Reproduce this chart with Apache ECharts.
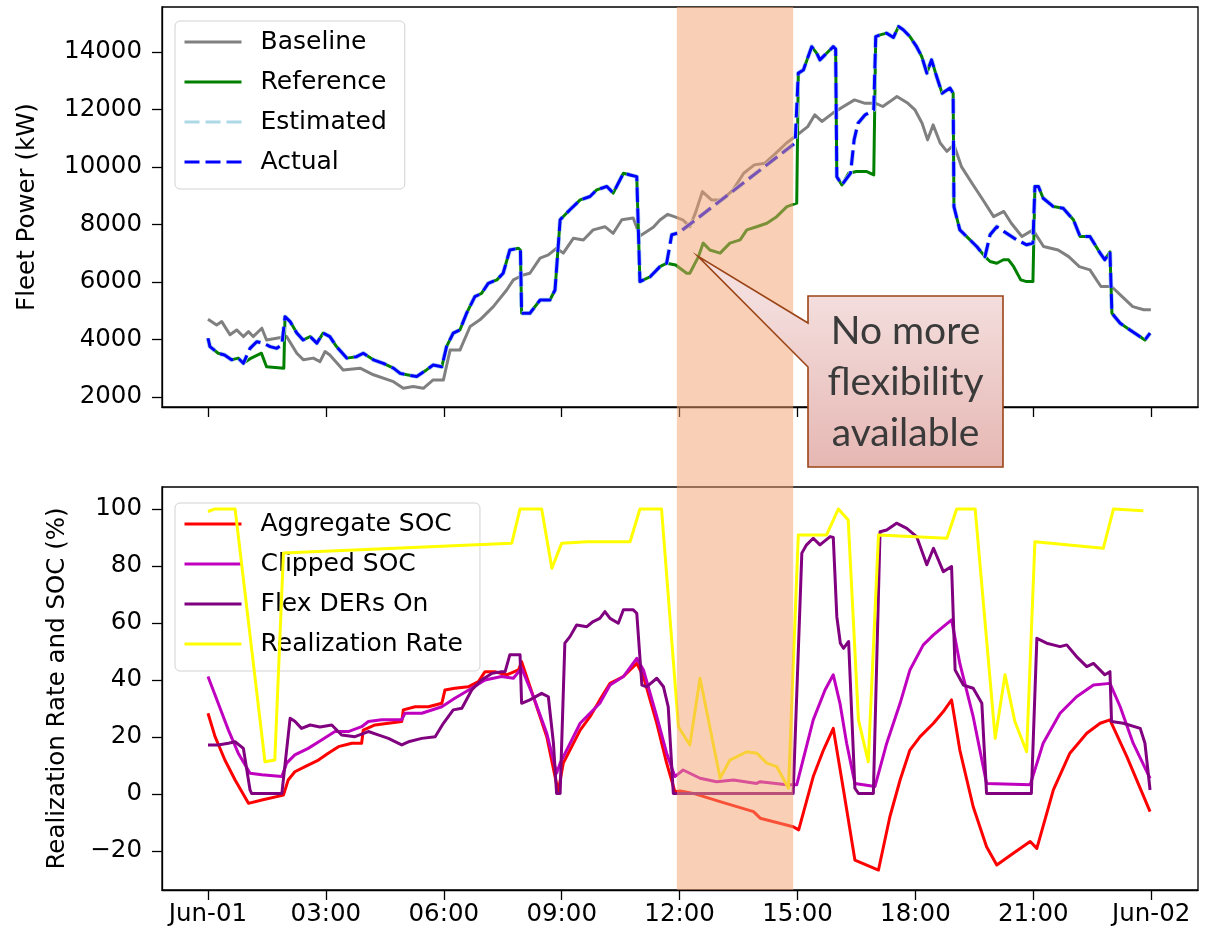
<!DOCTYPE html>
<html>
<head>
<meta charset="utf-8">
<script src="https://cdn.jsdelivr.net/npm/echarts@6/dist/echarts.min.js"></script>
<style>
  html, body { margin: 0; padding: 0; background: #fff; }
  #chart { width: 1207px; height: 935px; }
</style>
</head>
<body>
<div id="chart"></div>
<script>
// ---- time axis (hours since Jun-01 00:00) ----
const xTickHours = [0, 3, 6, 9, 12, 15, 18, 21, 24];
const xTickLabels = ['Jun-01', '03:00', '06:00', '09:00', '12:00', '15:00', '18:00', '21:00', 'Jun-02'];
const powerTicks = [2000, 4000, 6000, 8000, 10000, 12000, 14000];
const pctTicks = [-20, 0, 20, 40, 60, 80, 100];
const shadeWindow = [11.93, 14.89];
const calloutPoint = [12.46, 6900];
const calloutText = ['No more', 'flexibility', 'available'];

// ---- top panel: fleet power (kW) ----
const baseline = [
  [0,4700],[0.22,4500],[0.35,4620],[0.56,4160],[0.73,4330],[0.9,4100],[1.03,4270],[1.15,4100],[1.37,4390],[1.49,3980],
  [2.0,4100],[2.26,3520],[2.43,3290],[2.68,3350],[2.85,3230],[2.98,3580],[3.1,3460],[3.44,2940],[3.87,3000],[4.21,2770],
  [4.72,2530],[4.97,2300],[5.22,2360],[5.48,2300],[5.73,2590],[5.99,2590],[6.16,3630],[6.41,3630],[6.67,4450],[6.92,4680],
  [7.26,5140],[7.6,5720],[7.77,6070],[8.02,6240],[8.19,6300],[8.45,6830],[8.66,6940],[8.87,7170],[9.04,7000],[9.3,7520],
  [9.55,7460],[9.8,7810],[10.1,7920],[10.31,7690],[10.53,8160],[10.82,8220],[10.99,7600],[11.33,7900],[11.5,8150],[11.7,8350],
  [11.9,8250],[12.08,8160],[12.26,7920],[12.4,8390],[12.58,9140],[12.81,8850],[13.08,8850],[13.36,9200],[13.63,9780],[13.9,10070],
  [14.17,10130],[14.45,10480],[14.72,10830],[14.99,11110],[15.26,11400],[15.44,11810],[15.62,11580],[15.9,11870],[16.17,12100],[16.45,12330],
  [16.72,12210],[16.99,12210],[17.17,12100],[17.35,12270],[17.53,12450],[17.81,12210],[17.99,11980],[18.17,11520],[18.31,10940],[18.45,11460],
  [18.63,10830],[18.8,10540],[18.98,10770],[19.17,10010],[19.44,9430],[19.72,8850],[19.99,8270],[20.25,8450],[20.44,8040],[20.71,7580],
  [20.99,7810],[21.26,7230],[21.63,7110],[21.9,6880],[22.17,6530],[22.44,6420],[22.72,5840],[22.99,5840],[23.26,5490],[23.53,5140],
  [23.81,5030],[23.99,5030]
];
const reference = [
  [0,4040],[0.05,3750],[0.26,3520],[0.42,3460],[0.6,3290],[0.77,3350],[0.9,3170],[1.1,3350],[1.36,3520],[1.49,3050],
  [1.93,3000],[1.96,4790],[2.09,4620],[2.26,4220],[2.42,3980],[2.6,4100],[2.77,3870],[2.93,4220],[3.1,4100],[3.27,3750],
  [3.53,3350],[3.78,3400],[3.95,3520],[4.21,3290],[4.46,3170],[4.72,3000],[4.89,2820],[5.06,2770],[5.31,2710],[5.56,2940],
  [5.73,3110],[5.95,3050],[6.07,3750],[6.24,4220],[6.41,4330],[6.58,4910],[6.79,5490],[6.96,5600],[7.13,5950],[7.35,6070],
  [7.51,6300],[7.68,7110],[7.9,7170],[7.95,7100],[7.98,4910],[8.19,4910],[8.45,5370],[8.7,5370],[8.83,5720],[8.96,8160],
  [9.21,8510],[9.47,8850],[9.72,8970],[9.89,9200],[10.15,9320],[10.31,9090],[10.57,9780],[10.74,9720],[10.91,9660],[10.99,6010],
  [11.25,6180],[11.5,6530],[11.67,6650],[11.9,6590],[12.18,6300],[12.26,6300],[12.48,6880],[12.6,7350],[12.77,7110],[13.03,7000],
  [13.28,7350],[13.54,7460],[13.71,7810],[13.96,7920],[14.22,8040],[14.47,8270],[14.73,8620],[14.98,8740],[15.02,13260],[15.15,13370],
  [15.36,14180],[15.49,13950],[15.57,13720],[15.74,13950],[15.91,14180],[15.97,14100],[16.0,9660],[16.13,9370],[16.3,9780],[16.5,9840],
  [16.75,9840],[16.94,9720],[16.99,14530],[17.1,14590],[17.27,14650],[17.44,14500],[17.57,14880],[17.69,14770],[17.86,14530],[18.03,14180],
  [18.16,13840],[18.29,13260],[18.41,13720],[18.55,13100],[18.68,12560],[18.88,12740],[18.96,12560],[18.98,8620],[19.13,7810],[19.39,7460],
  [19.56,7230],[19.77,6880],[19.9,6710],[20.07,6650],[20.24,6770],[20.37,6770],[20.5,6530],[20.68,6070],[20.83,6010],[20.99,6010],
  [21.04,9320],[21.13,9320],[21.25,8910],[21.51,8620],[21.76,8560],[22.02,8160],[22.19,7580],[22.44,7580],[22.7,7000],[22.82,6770],
  [22.95,7050],[23.0,4910],[23.21,4560],[23.46,4330],[23.71,4100],[23.84,3980],[23.97,4220]
];
const actual = [
  [0,4040],[0.05,3750],[0.26,3520],[0.42,3460],[0.6,3290],[0.77,3350],[0.9,3170],[1.07,3690],[1.24,3920],[1.41,3870],
  [1.58,3750],[1.75,3690],[1.88,3810],[1.93,3750],[1.96,4790],[2.09,4620],[2.26,4220],[2.42,3980],[2.6,4100],[2.77,3870],
  [2.93,4220],[3.1,4100],[3.27,3750],[3.53,3350],[3.78,3400],[3.95,3520],[4.21,3290],[4.46,3170],[4.72,3000],[4.89,2820],
  [5.06,2770],[5.31,2710],[5.56,2940],[5.73,3110],[5.95,3050],[6.07,3750],[6.24,4220],[6.41,4330],[6.58,4910],[6.79,5490],
  [6.96,5600],[7.13,5950],[7.35,6070],[7.51,6300],[7.68,7110],[7.9,7170],[7.95,7100],[7.98,4910],[8.19,4910],[8.45,5370],
  [8.7,5370],[8.83,5720],[8.96,8160],[9.21,8510],[9.47,8850],[9.72,8970],[9.89,9200],[10.15,9320],[10.31,9090],[10.57,9780],
  [10.74,9720],[10.91,9660],[10.99,6010],[11.25,6180],[11.5,6530],[11.67,6650],[11.8,7640],[11.97,7700],[14.94,10830],[15.02,13260],
  [15.15,13370],[15.36,14180],[15.49,13950],[15.57,13720],[15.74,13950],[15.91,14180],[15.97,14100],[16.0,9660],[16.13,9370],[16.35,9780],
  [16.44,10940],[16.54,11520],[16.72,11810],[16.94,11980],[16.99,14530],[17.1,14590],[17.27,14650],[17.44,14500],[17.57,14880],[17.69,14770],
  [17.86,14530],[18.03,14180],[18.16,13840],[18.29,13260],[18.41,13720],[18.55,13100],[18.68,12560],[18.88,12740],[18.96,12560],[18.98,8620],
  [19.13,7810],[19.39,7460],[19.56,7230],[19.77,6880],[19.9,7640],[20.07,7920],[20.32,7690],[20.58,7460],[20.83,7290],[20.99,7350],
  [21.04,9320],[21.13,9320],[21.25,8910],[21.51,8620],[21.76,8560],[22.02,8160],[22.19,7580],[22.44,7580],[22.7,7000],[22.82,6770],
  [22.95,7050],[23.0,4910],[23.21,4560],[23.46,4330],[23.71,4100],[23.84,3980],[23.97,4220]
];
// Estimated tracks Actual point for point in the picture
const estimated = actual.map(p => [p[0], p[1]]);

// ---- bottom panel: realization rate and SOC (%) ----
const aggregateSOC = [
  [0,28.3],[0.18,20.1],[0.43,11.9],[0.69,4.9],[1.03,-3.3],[1.37,-2.1],[1.92,-0.4],[2.04,4.9],[2.21,7.8],[2.47,9.6],
  [2.81,11.9],[3.06,14.3],[3.32,16.6],[3.66,17.8],[3.91,17.8],[3.95,22.4],[4.25,24.2],[4.59,24.8],[4.93,25.4],[4.97,29.5],
  [5.27,30.6],[5.61,30.6],[5.95,31.8],[6.03,36.5],[6.28,37.1],[6.62,37.6],[6.88,39.4],[7.05,42.9],[7.3,42.9],[7.6,41.8],
  [7.9,43.5],[7.98,46.4],[8.28,34.1],[8.62,20.1],[8.83,6.1],[8.91,0.8],[9.04,10.8],[9.47,22.4],[9.72,27.1],[9.97,33.0],
  [10.23,38.8],[10.57,41.2],[10.91,45.8],[11.08,41.2],[11.42,24.8],[11.67,10.8],[11.88,0.8],[12.01,1.0],[12.35,0.2],[13.03,-2.7],
  [13.88,-6.2],[14.05,-8.5],[14.89,-11.5],[15.03,-12.6],[15.4,6.1],[15.66,15.4],[15.91,23.0],[16.17,1.4],[16.46,-23.2],[17.06,-26.7],
  [17.35,-8.0],[17.61,4.9],[17.86,15.4],[18.12,20.1],[18.46,24.8],[18.71,28.9],[18.92,33.0],[19.13,15.4],[19.47,-4.5],[19.81,-18.5],
  [20.07,-24.9],[20.49,-20.8],[20.92,-16.7],[21.09,-19.1],[21.51,1.4],[21.93,14.3],[22.36,21.3],[22.7,24.8],[22.95,26.0],[23.38,13.1],
  [23.97,-6.2]
];
const clippedSOC = [
  [0,41.2],[0.26,31.8],[0.52,22.4],[0.77,14.3],[1.07,7.3],[1.37,6.7],[1.88,6.1],[2.0,10.8],[2.21,13.7],[2.55,16.0],
  [2.89,18.9],[3.23,21.9],[3.57,21.9],[3.91,23.6],[4.08,25.4],[4.42,26.0],[4.93,26.0],[5.01,28.3],[5.44,28.3],[5.95,30.6],
  [6.28,33.6],[6.71,37.1],[7.05,40.0],[7.47,41.2],[7.77,40.6],[7.98,44.1],[8.28,34.1],[8.62,21.3],[8.87,7.3],[8.96,10.8],
  [9.47,24.8],[9.97,31.8],[10.23,38.2],[10.57,41.2],[10.91,47.6],[11.08,43.5],[11.42,27.1],[11.67,14.3],[11.88,6.1],[12.09,8.4],
  [12.52,5.5],[12.94,4.3],[13.37,4.9],[13.96,3.7],[14.05,4.3],[14.73,3.2],[14.98,3.2],[15.4,26.0],[15.7,36.5],[15.91,41.8],
  [16.08,31.8],[16.25,17.8],[16.46,3.7],[16.97,2.6],[17.27,17.8],[17.61,31.8],[17.86,43.5],[18.2,52.3],[18.46,55.8],[18.71,58.7],
  [18.92,61.1],[19.13,45.8],[19.47,27.1],[19.81,3.7],[20.92,3.2],[21.25,17.8],[21.68,28.3],[22.1,34.1],[22.53,38.2],[22.95,38.8],
  [23.21,30.6],[23.54,17.8],[23.97,5.5]
];
const flexDERsOn = [
  [0,17.2],[0.26,17.2],[0.52,17.8],[0.69,18.3],[0.9,16.0],[1.07,1.4],[1.11,0.2],[1.88,0.2],[2.09,26.6],[2.21,25.5],
  [2.38,23.0],[2.6,24.2],[2.85,23.5],[3.15,24.2],[3.4,20.7],[3.74,20.1],[4.08,21.9],[4.33,20.7],[4.59,19.5],[4.93,17.2],
  [5.1,18.3],[5.44,19.5],[5.78,20.1],[5.99,24.8],[6.24,29.5],[6.46,30.1],[6.71,36.5],[6.96,40.0],[7.22,42.3],[7.47,42.9],
  [7.56,42.9],[7.68,48.8],[7.94,48.8],[7.98,31.8],[8.19,33.0],[8.49,35.3],[8.66,34.1],[8.79,17.8],[8.87,0.2],[8.96,0.2],
  [9.08,52.9],[9.21,55.2],[9.38,59.3],[9.64,58.7],[9.8,60.5],[9.97,61.6],[10.1,64.0],[10.23,61.6],[10.44,59.9],[10.57,64.6],
  [10.82,64.6],[10.91,63.4],[11.04,38.2],[11.16,37.6],[11.42,40.6],[11.59,37.6],[11.71,30.6],[11.84,0.2],[14.89,0.2],[15.11,84.5],
  [15.23,87.4],[15.4,89.7],[15.57,87.4],[15.83,90.3],[15.91,90.0],[16.0,62.2],[16.09,52.9],[16.17,51.1],[16.3,53.5],[16.46,2.0],
  [16.55,0.2],[16.93,0.2],[17.1,92.0],[17.27,92.6],[17.52,95.0],[17.78,93.2],[18.03,90.3],[18.29,80.4],[18.46,86.2],[18.71,78.0],
  [18.92,79.8],[19.01,43.5],[19.22,38.2],[19.47,37.1],[19.69,31.8],[19.81,0.2],[20.95,0.2],[21.09,54.6],[21.34,52.9],[21.68,51.7],
  [21.85,52.3],[22.1,48.2],[22.36,44.7],[22.53,45.8],[22.82,41.8],[22.95,42.9],[22.99,25.4],[23.29,24.8],[23.72,23.0],[23.84,17.8],
  [23.97,1.4]
];
const realizationRate = [
  [0,99.1],[0.18,100],[0.69,100],[1.45,11.3],[1.7,11.9],[1.92,84.5],[7.73,88.0],[7.94,100],[8.49,100],[8.75,79.2],
  [9.0,88.0],[9.64,88.5],[10.74,88.5],[10.99,100],[11.54,100],[11.97,23.6],[12.26,17.2],[12.52,40.6],[13.03,5.5],[13.28,11.9],
  [13.71,14.8],[13.96,14.3],[14.22,10.8],[14.47,9.6],[14.77,2.0],[15.02,90.9],[15.74,90.9],[16.04,100],[16.29,96.1],[16.55,26.0],
  [16.8,11.3],[17.06,90.9],[18.8,89.7],[19.05,100],[19.52,100],[20.03,19.5],[20.28,41.8],[20.53,25.4],[20.83,14.8],[21.04,88.5],
  [22.78,86.2],[23.04,100],[23.8,99.4]
];

// ---- chart ----
const FONT = 'DejaVu Sans';
const X_MIN = -1.17, X_MAX = 25.19;
const P_MIN = 1650, P_MAX = 15560;
const S_MIN = -33.7, S_MAX = 107.7;

const chart = echarts.init(document.getElementById('chart'), null, { renderer: 'canvas' });

function xAxisCfg(gridIndex, showLabels) {
  return {
    type: 'value', gridIndex, min: X_MIN, max: X_MAX,
    axisLine: { show: true, onZero: false, lineStyle: { color: '#000', width: 1.3 } },
    axisTick: { show: true, customValues: xTickHours, length: 10, lineStyle: { color: '#000', width: 1.3 } },
    axisLabel: {
      show: showLabels, customValues: xTickHours, margin: 12,
      fontFamily: FONT, fontSize: 24.5, color: '#000',
      formatter: v => xTickLabels[xTickHours.indexOf(Math.round(v))] || ''
    },
    splitLine: { show: false }
  };
}
function yAxisCfg(gridIndex, min, max, ticks, name, gap) {
  return {
    type: 'value', gridIndex, min, max,
    name, nameLocation: 'middle', nameGap: gap, nameRotate: 90,
    nameTextStyle: { fontFamily: FONT, fontSize: 24.5, color: '#000' },
    axisLine: { show: true, onZero: false, lineStyle: { color: '#000', width: 1.3 } },
    axisTick: { show: true, customValues: ticks, length: 10, lineStyle: { color: '#000', width: 1.3 } },
    axisLabel: {
      customValues: ticks, margin: 20, fontFamily: FONT, fontSize: 24.5, color: '#000',
      formatter: v => String(v).replace('-', '\u2212')
    },
    splitLine: { show: false }
  };
}
function lineSeries(name, data, axis, color, width, dash, z) {
  return {
    name, type: 'line', data, xAxisIndex: axis, yAxisIndex: axis,
    symbol: 'none', showSymbol: false, animation: false, z,
    itemStyle: { color },
    lineStyle: { color, width, type: dash || 'solid', join: 'round' },
    emphasis: { disabled: true }
  };
}
const legendText = { fontFamily: FONT, fontSize: 25, color: '#000', lineHeight: 28, padding: [0, 0, 0, 14] };
function legendCfg(names, top, padRight) {
  return {
    data: names, orient: 'vertical', left: 175, top,
    itemWidth: 57, itemHeight: 14, itemGap: 12,
    padding: [7, padRight, 13, 8],
    textStyle: legendText,
    lineStyle: { width: 3 },
    itemStyle: { color: 'rgba(0,0,0,0)', borderColor: 'rgba(0,0,0,0)', borderWidth: 0 },
    backgroundColor: 'rgba(255,255,255,0.8)', borderColor: '#d2d2d2', borderWidth: 1, borderRadius: 5,
    selectedMode: false
  };
}

const option = {
  animation: false,
  backgroundColor: '#fff',
  grid: [
    { left: 162, top: 7, width: 1036, height: 400, show: true, borderColor: '#000', borderWidth: 1.3, backgroundColor: 'transparent' },
    { left: 162, top: 487, width: 1036, height: 403, show: true, borderColor: '#000', borderWidth: 1.3, backgroundColor: 'transparent' }
  ],
  xAxis: [xAxisCfg(0, false), xAxisCfg(1, true)],
  yAxis: [
    yAxisCfg(0, P_MIN, P_MAX, powerTicks, 'Fleet Power (kW)', 122),
    yAxisCfg(1, S_MIN, S_MAX, pctTicks, 'Realization Rate and SOC (%)', 92)
  ],
  legend: [
    legendCfg(['Baseline', 'Reference', 'Estimated', 'Actual'], 21, 18),
    legendCfg(['Aggregate SOC', 'Clipped SOC', 'Flex DERs On', 'Realization Rate'], 503, 17)
  ],
  series: [
    lineSeries('Baseline', baseline, 0, '#808080', 3, null, 2),
    lineSeries('Reference', reference, 0, '#008000', 3, null, 3),
    lineSeries('Estimated', estimated, 0, '#add8e6', 4.5, [15, 6], 4),
    lineSeries('Actual', actual, 0, '#0000ff', 3, [15, 6], 5),
    lineSeries('Aggregate SOC', aggregateSOC, 1, '#ff0000', 3, null, 2),
    lineSeries('Clipped SOC', clippedSOC, 1, '#bf00bf', 3, null, 3),
    lineSeries('Flex DERs On', flexDERsOn, 1, '#800080', 3, null, 4),
    lineSeries('Realization Rate', realizationRate, 1, '#ffff00', 3, null, 5)
  ]
};
chart.setOption(option);

// ---- annotations placed through the axes ----
const sx0 = chart.convertToPixel({ xAxisIndex: 0 }, shadeWindow[0]);
const sx1 = chart.convertToPixel({ xAxisIndex: 0 }, shadeWindow[1]);
const sy0 = chart.convertToPixel({ yAxisIndex: 0 }, P_MAX);
const sy1 = chart.convertToPixel({ yAxisIndex: 1 }, S_MIN);
const tip = chart.convertToPixel({ gridIndex: 0 }, calloutPoint);

const box = { l: 808, r: 1003, t: 296, b: 467, a0: 323, a1: 367 };
chart.setOption({
  graphic: [
    {
      type: 'rect', z: 100, silent: true,
      shape: { x: sx0, y: sy0, width: sx1 - sx0, height: sy1 - sy0 },
      style: { fill: 'rgba(243,161,109,0.5)' }
    },
    {
      type: 'polygon', z: 101, silent: true,
      shape: { points: [[box.l, box.t], [box.r, box.t], [box.r, box.b], [box.l, box.b], [box.l, box.a1], tip, [box.l, box.a0]] },
      style: {
        fill: new echarts.graphic.LinearGradient(0, box.t, 0, box.b, [
          { offset: 0, color: '#f3dedd' }, { offset: 1, color: '#e6b7b3' }
        ], true),
        stroke: '#9b4416', lineWidth: 1.6, lineJoin: 'miter'
      }
    },
    {
      type: 'text', z: 102, silent: true,
      style: {
        text: calloutText.join('\n'),
        x: (box.l + box.r) / 2, y: (box.t + box.b) / 2 + 1,
        align: 'center', verticalAlign: 'middle',
        fontFamily: 'Lato', fontSize: 39, lineHeight: 51, fill: '#3a3a3a'
      }
    }
  ]
});
</script>
</body>
</html>
